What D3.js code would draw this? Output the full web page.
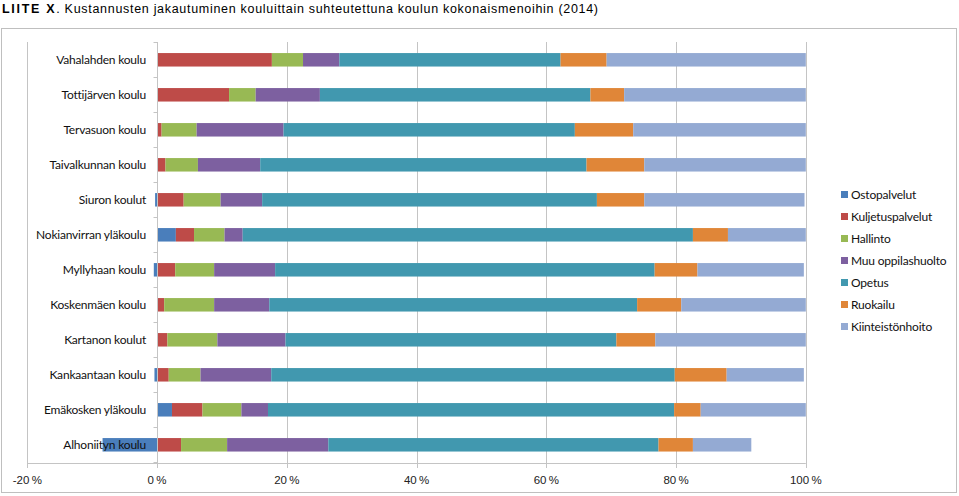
<!DOCTYPE html>
<html><head><meta charset="utf-8">
<script src="https://cdn.jsdelivr.net/npm/d3@7"></script>
<style>
body{margin:0;background:#fff;}
svg{display:block;}
</style></head>
<body>
<svg id="c" width="959" height="496"></svg>
<script>
const categories = ["Vahalahden koulu","Tottijärven koulu","Tervasuon koulu","Taivalkunnan koulu","Siuron koulut","Nokianvirran yläkoulu","Myllyhaan koulu","Koskenmäen koulu","Kartanon koulut","Kankaantaan koulu","Emäkosken yläkoulu","Alhoniityn koulu"];
const seriesNames = ["Ostopalvelut","Kuljetuspalvelut","Hallinto","Muu oppilashuolto","Opetus","Ruokailu","Kiinteistönhoito"];
const ostopalvelut     = [0, 0, 0, 0, -0.3, 2.9, -0.5, 0, 0, -0.4, 2.3, -8.4];
const kuljetuspalvelut = [17.7, 11.1, 0.7, 1.3, 4.1, 2.8, 2.8, 1.1, 1.6, 1.8, 4.7, 3.7];
const hallinto         = [4.8, 4.1, 5.4, 5.0, 5.7, 4.7, 6.0, 7.7, 7.7, 4.9, 6.0, 7.1];
const muuOppilashuolto = [5.6, 9.9, 13.4, 9.6, 6.4, 2.8, 9.4, 8.5, 10.5, 10.9, 4.1, 15.6];
const opetus           = [34.1, 41.7, 44.9, 50.3, 51.6, 69.4, 58.5, 56.7, 51.0, 62.2, 62.6, 50.9];
const ruokailu         = [7.1, 5.2, 9.0, 8.9, 7.3, 5.4, 6.6, 6.8, 6.0, 8.0, 4.1, 5.3];
const kiinteistonhoito = [30.7, 28.0, 26.6, 24.9, 24.7, 12.0, 16.4, 19.2, 23.2, 11.9, 16.2, 9.0];
const xTicks = [-20, 0, 20, 40, 60, 80, 100];
const title = "Kustannusten jakautuminen kouluittain suhteutettuna koulun kokonaismenoihin (2014)";

const colors = ["#4A7EBB","#BE4B48","#98B954","#7D60A0","#4198AF","#E08638","#94AAD3"];
const seriesValues = [ostopalvelut,kuljetuspalvelut,hallinto,muuOppilashuolto,opetus,ruokailu,kiinteistonhoito];

const rows = categories.map((c,i)=>{
  const o = {cat:c};
  seriesNames.forEach((s,j)=>o[s]=seriesValues[j][i]);
  return o;
});

const svg = d3.select("#c");

// title
const t = svg.append("text").attr("x",2).attr("y",13)
  .style("font-family","'Liberation Sans', Arial, sans-serif").style("font-size","12.5px")
  .style("letter-spacing","0.7px").attr("fill","#000");
t.append("tspan").style("font-weight","bold").style("letter-spacing","1.7px").text("LIITE X");
t.append("tspan").text(". " + title);

// outer frame
svg.append("rect").attr("x",1.5).attr("y",28.5).attr("width",955).attr("height",464)
  .attr("fill","none").attr("stroke","#BFBFBF").attr("stroke-width",1);

const x = d3.scaleLinear().domain([-20,100]).range([27.3,805.8]);
const y = d3.scaleBand().domain(categories).range([42.3,462.3]).paddingInner(0.615).paddingOuter(0.3075);

// gridlines
svg.append("g").selectAll("line").data(xTicks).join("line")
  .attr("x1",d=>Math.round(x(d))+0.5).attr("x2",d=>Math.round(x(d))+0.5)
  .attr("y1",42).attr("y2",468)
  .attr("stroke","#C4C4C4").attr("stroke-width",1);

// x axis line
svg.append("line").attr("x1",x(-20)).attr("x2",x(100)).attr("y1",463.5).attr("y2",463.5)
  .attr("stroke","#C4C4C4");

// x tick labels
svg.append("g").selectAll("text").data(xTicks).join("text")
  .attr("x",d=>x(d)).attr("y",484).attr("text-anchor","middle")
  .style("font-family","'Liberation Sans Narrow','Liberation Sans',Arial,sans-serif").style("font-size","11.5px")
  .attr("fill","#222").text(d=>d+"\u2009%");

// stacked bars
const stack = d3.stack().keys(seriesNames).offset(d3.stackOffsetDiverging);
const stacked = stack(rows);
svg.append("g").selectAll("g").data(stacked).join("g")
  .attr("fill",(d,i)=>colors[i])
  .selectAll("rect").data(d=>d).join("rect")
  .attr("x",d=>x(Math.min(d[0],d[1])))
  .attr("width",d=>Math.abs(x(d[1])-x(d[0])))
  .attr("y",d=>y(d.data.cat))
  .attr("height",y.bandwidth());

// y axis line and ticks
const y0 = Math.round(x(0))+0.5;
svg.append("line").attr("x1",y0).attr("x2",y0).attr("y1",42).attr("y2",463.5).attr("stroke","#C4C4C4");
const bounds = categories.map(c=>y(c)-y.step()*y.paddingInner()/2).concat([462.3]);
svg.append("g").selectAll("line").data(bounds).join("line")
  .attr("x1",y0-4).attr("x2",y0).attr("y1",d=>Math.round(d)+0.5).attr("y2",d=>Math.round(d)+0.5)
  .attr("stroke","#C4C4C4");

// y labels
svg.append("g").selectAll("text").data(categories).join("text")
  .attr("x",146).attr("y",d=>y(d)+y.bandwidth()/2).attr("dy","0.35em")
  .attr("text-anchor","end")
  .style("font-family","Lato, 'Open Sans', sans-serif").style("font-size","12px")
  .style("letter-spacing","-0.2px")
  .attr("fill","#111").text(d=>d);

// legend
const lg = svg.append("g").attr("transform","translate(841,195)");
const li = lg.selectAll("g").data(seriesNames).join("g").attr("transform",(d,i)=>`translate(0,${i*22})`);
li.append("rect").attr("x",0).attr("y",-4).attr("width",7).attr("height",7).attr("fill",(d,i)=>colors[i]);
li.append("text").attr("x",10).attr("y",0).attr("dy","0.35em")
  .style("font-family","Lato, 'Open Sans', sans-serif").style("font-size","12px")
  .style("letter-spacing","-0.2px")
  .attr("fill","#111").text(d=>d);
</script>
</body></html>
